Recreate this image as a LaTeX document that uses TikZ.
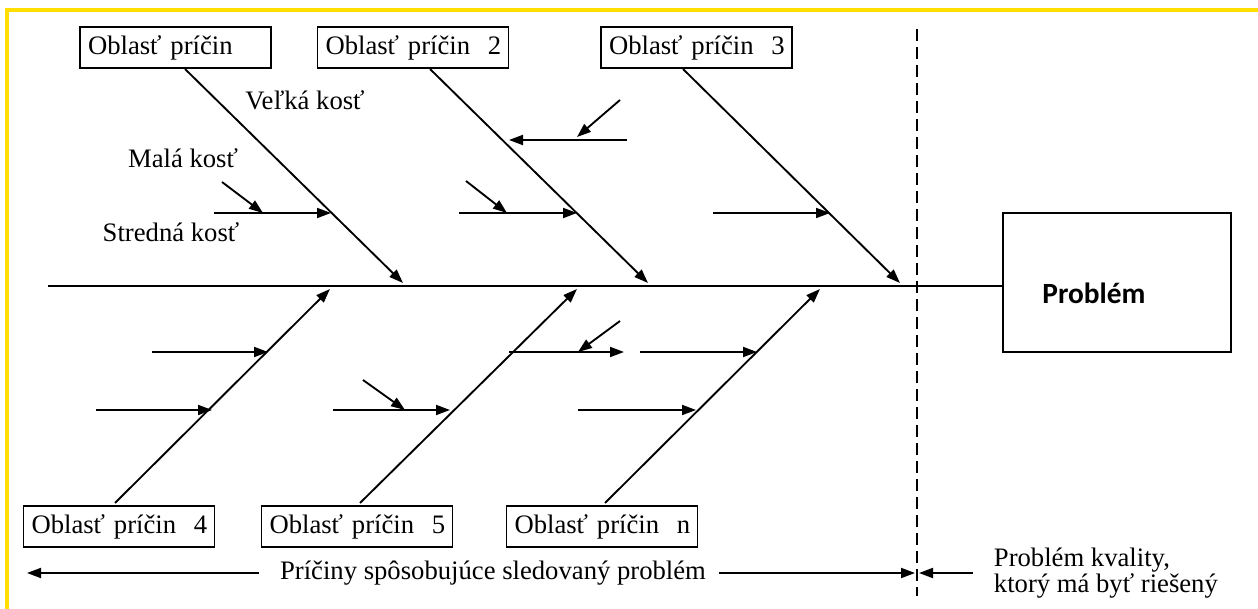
\documentclass[tikz,border=0pt]{standalone}
\usepackage{fontspec}
\setmainfont{Liberation Serif}
\newfontfamily\probfont{Carlito}
\usetikzlibrary{arrows.meta}
\definecolor{frameyellow}{RGB}{255,222,0}
\begin{document}
\begin{tikzpicture}[x=0.75pt,y=-0.75pt,
  line width=1.4pt,
  arr/.style={-{Triangle[length=10.5pt,width=7.5pt]}},
  cbox/.style={draw, line width=1.4pt, minimum width=143.25pt, minimum height=27.75pt,
    text width=131.25pt, align=left, inner sep=6pt, font=\fontsize{20}{24}\selectfont},
  lbl/.style={font=\fontsize{20}{24}\selectfont, inner sep=0pt},
  dash line/.style={line width=1.4pt, dash pattern=on 9pt off 4.5pt}
]
\useasboundingbox (0,0) rectangle (1258,609);
% frame
\draw[frameyellow, line width=3pt] (7,609) -- (7,10) -- (1258,10);

% problem box
\node[draw, line width=1.4pt, minimum width=171pt, minimum height=104.25pt, inner sep=0pt] (prob) at (1117,282.5) {};
\node[font=\probfont\bfseries\fontsize{22}{26}\selectfont, inner sep=0pt] (probtext) at (1094,293) {Problém};

% spine
\coordinate (sp) at (48,286);
\draw (sp) -- (sp -| prob.west);

% dashed divider
\coordinate (dtop) at (917,29);
\coordinate (dbot) at (917,596);
\draw[dash line] (dtop) -- (dbot);

% cause boxes
\node[cbox] (box1) at (175.5,47.5) {\mbox{Oblasť príčin}};
\node[cbox] (box2) at (413,47.5) {\mbox{Oblasť príčin\ \ 2}};
\node[cbox] (box3) at (696.5,47.5) {\mbox{Oblasť príčin\ \ 3}};
\node[cbox] (box4) at (119,526.5) {\mbox{Oblasť príčin\ \ 4}};
\node[cbox] (box5) at (357,526.5) {\mbox{Oblasť príčin\ \ 5}};
\node[cbox] (boxn) at (602,526.5) {\mbox{Oblasť príčin\ \ n}};

% big bones
\coordinate (b1s) at (185,69);  \coordinate (b1e) at (403,283);
\coordinate (b2s) at (430,69);  \coordinate (b2e) at (648,283);
\coordinate (b3s) at (683,69);  \coordinate (b3e) at (900,283);
\coordinate (b4s) at (115,503); \coordinate (b4e) at (330,289);
\coordinate (b5s) at (360,503); \coordinate (b5e) at (577,289);
\coordinate (bns) at (605,503); \coordinate (bne) at (820,289);
\foreach \b in {b1,b2,b3,b4,b5,bn} \draw[arr] (\b s) -- (\b e);

% sub bones
\coordinate (s1s) at (214,213);  \coordinate (s1e) at (331,213);
\coordinate (m1s) at (222,182);  \coordinate (m1e) at (263,213);
\coordinate (s2as) at (627,140); \coordinate (s2ae) at (509,140);
\coordinate (m2as) at (620,100); \coordinate (m2ae) at (577,137);
\coordinate (s2bs) at (459,213); \coordinate (s2be) at (577,213);
\coordinate (m2bs) at (466,181); \coordinate (m2be) at (507,213);
\coordinate (s3s) at (713,213);  \coordinate (s3e) at (830,213);
\coordinate (s4as) at (152,352); \coordinate (s4ae) at (268,352);
\coordinate (s4bs) at (96,410);  \coordinate (s4be) at (212,410);
\coordinate (s5as) at (333,410); \coordinate (s5ae) at (450,410);
\coordinate (m5as) at (363,380); \coordinate (m5ae) at (405,410);
\coordinate (s5bs) at (509,352); \coordinate (s5be) at (624,352);
\coordinate (m5bs) at (620,321); \coordinate (m5be) at (578,352);
\coordinate (snas) at (640,352); \coordinate (snae) at (757,352);
\coordinate (snbs) at (578,410); \coordinate (snbe) at (696,410);
\foreach \b in {s1,m1,s2a,m2a,s2b,m2b,s3,s4a,s4b,s5a,m5a,s5b,m5b,sna,snb}
  \draw[arr] (\b s) -- (\b e);

% bone labels
\node[lbl] (velka) at (305,100) {Veľká kosť};
\node[lbl] (mala) at (183,158) {Malá kosť};
\node[lbl] (stredna) at (171,232) {Stredná kosť};

% bottom legend
\node[lbl] (pric) at (493,573) {Príčiny spôsobujúce sledovaný problém};
\coordinate (la) at (27,573);
\coordinate (ra) at (915,573);
\coordinate (rb) at (973,573);
\coordinate (rbe) at (919,573);
\draw[arr] (pric.west) ++(-20,0) -- (la);
\draw[arr] (pric.east) ++(12,0) -- (ra);
\draw[arr] (rb) -- (rbe);
\node[lbl, anchor=west, align=left, font=\fontsize{20}{19.5}\selectfont] (kval) at (993,573) {Problém kvality,\\ktorý má byť riešený};
\end{tikzpicture}
\end{document}
